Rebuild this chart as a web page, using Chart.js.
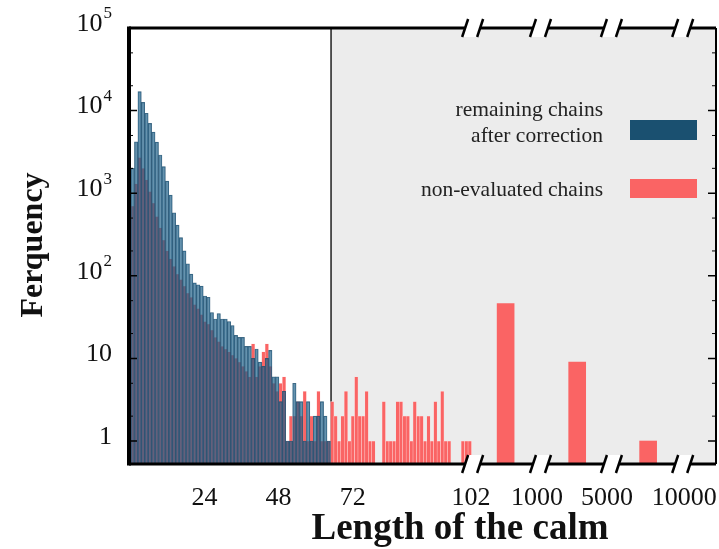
<!DOCTYPE html>
<html>
<head>
<meta charset="utf-8">
<script src="https://cdn.jsdelivr.net/npm/chart.js@4.4.0/dist/chart.umd.min.js"></script>
<style>
    html, body { margin: 0; padding: 0; background: #fff; }
    #wrap { width: 719px; height: 549px; }
</style>
</head>
<body>
<div id="wrap"><canvas id="calmChart" width="719" height="549"></canvas></div>
<script>
// Histogram bins on the linear part of the x axis (length units)
const binStart = 0.15;
const binWidth = 1.115;

// remaining chains after correction, one value per bin
const remainingCounts = [
    2000, 4200, 17000, 12600, 9300, 7000, 5500, 4150, 2900, 2100,
    1400, 950, 580, 410, 290, 200, 140, 105, 82, 78,
    75, 57, 55, 36, 30, 35, 30, 30, 28, 25,
    19, 18, 18, 14, 14, 10, 13, 9, 8, 10,
    12.5, 6, 6, 3, 4, 1, 1, 5, 3, 3,
    1, 3, 1, 2, 2, 3, 2, 1
];

// non-evaluated chains, one value per bin (null = empty bin)
const nonEvaluatedCounts = [
    700, 1300, 2700, 2000, 1450, 1050, 760, 520, 380, 270,
    200, 160, 130, 105, 90, 75, 62, 55, 45, 40,
    34, 28, 26, 22, 18, 16, 14, 13, 12, 11,
    10, 9, 8, 7, 6, 15, 6, 8, 12, 15,
    8, 5, 4, 5, 6, 1, 2, 2, 3, 2,
    4, 1, 2, 1, 4, 1, 1, 1, 3, 2,
    1, 2, 4, 1, 2, 6, 2, 2, 4, 1,
    1, null, null, 3, 1, 1, 1, 3, 3, 2,
    2, 1, 3, 2, 2, 1, 2, 1, 3, 1,
    4, 1, 1, null, null, null, 1, 1, 1
];

// very long calms, drawn after the axis breaks
const longCalmPos = [121.6, 144.8, 167.8];
const longCalmCounts = [46, 9, 1];

// threshold of the correction (length)
const thresholdLength = 65;

// x axis labels and breaks
const xTickValues = [24, 48, 72, 110.4, 131.8, 154.5, 179.5];
const xTickLabels = ['24', '48', '72', '102', '1000', '5000', '10000'];
const axisBreaks = [110.9, 132.9, 155.9, 179.0];

// y axis labels
const yTickValues = [1, 10, 100, 1000, 10000, 100000];
const yTickBase = ['1', '10', '10', '10', '10', '10'];
const yTickExp = ['', '', '2', '3', '4', '5'];
const yMinorTicks = [2, 5, 20, 50, 200, 500, 2000, 5000, 20000, 50000];

const BLUE = 'rgba(30, 94, 134, 0.68)';
const BLUE_EDGE = 'rgba(22, 66, 96, 0.75)';
const BLUE_SOLID = '#1a5070';
const RED = 'rgb(250, 100, 100)';
const RED_EDGE = 'rgba(255, 222, 222, 0.9)';
const SERIF = '"Liberation Serif", "Times New Roman", serif';

function binCenter(k) {
    return binStart + (k + 0.5) * binWidth;
}

const decorPlugin = {
    id: 'decor',
    beforeDatasetsDraw(chart) {
        const { ctx, chartArea: a, scales: { x } } = chart;
        const xt = x.getPixelForValue(thresholdLength);
        ctx.save();
        ctx.fillStyle = '#ececec';
        ctx.fillRect(xt, a.top, a.right - xt, a.bottom - a.top);
        ctx.strokeStyle = '#111';
        ctx.lineWidth = 1.4;
        ctx.beginPath();
        ctx.moveTo(xt, a.top);
        ctx.lineTo(xt, a.bottom);
        ctx.stroke();
        ctx.restore();
    },
    afterDraw(chart) {
        const { ctx, chartArea: a, scales: { x, y } } = chart;
        ctx.save();

        // frame
        ctx.strokeStyle = '#000';
        ctx.lineWidth = 4;
        ctx.beginPath(); ctx.moveTo(a.left, a.top - 1.5); ctx.lineTo(a.left, a.bottom + 1.5); ctx.stroke();
        ctx.lineWidth = 3;
        ctx.beginPath(); ctx.moveTo(a.left, a.bottom); ctx.lineTo(a.right, a.bottom); ctx.stroke();
        ctx.beginPath(); ctx.moveTo(a.left, a.top); ctx.lineTo(a.right, a.top); ctx.stroke();
        ctx.lineWidth = 2;
        ctx.beginPath(); ctx.moveTo(a.right, a.top); ctx.lineTo(a.right, a.bottom); ctx.stroke();

        // y ticks, inward on both sides
        const tick = (v, len, lw) => {
            const py = y.getPixelForValue(v);
            ctx.lineWidth = lw;
            ctx.beginPath();
            ctx.moveTo(a.left, py); ctx.lineTo(a.left + len, py);
            ctx.moveTo(a.right, py); ctx.lineTo(a.right - len, py);
            ctx.stroke();
        };
        yTickValues.forEach(v => tick(v, 8, 1.5));
        yMinorTicks.forEach(v => tick(v, 4, 1));

        // axis breaks
        axisBreaks.forEach(b => {
            const bx = x.getPixelForValue(b);
            [a.top, a.bottom].forEach(ly => {
                ctx.fillStyle = '#fff';
                ctx.beginPath();
                ctx.moveTo(bx - 10, ly + 9);
                ctx.lineTo(bx + 4, ly + 9);
                ctx.lineTo(bx + 10, ly - 9);
                ctx.lineTo(bx - 4, ly - 9);
                ctx.closePath();
                ctx.fill();
                ctx.strokeStyle = '#000';
                ctx.lineWidth = 2.5;
                [-7.5, 7.5].forEach(d => {
                    ctx.beginPath();
                    ctx.moveTo(bx + d - 3, ly + 9);
                    ctx.lineTo(bx + d + 3, ly - 9);
                    ctx.stroke();
                });
            });
        });

        // y tick labels with exponents
        ctx.fillStyle = '#111';
        ctx.textBaseline = 'middle';
        ctx.textAlign = 'right';
        yTickValues.forEach((v, i) => {
            const py = y.getPixelForValue(v) - 4;
            let right = 112;
            if (yTickExp[i]) {
                ctx.font = '17px ' + SERIF;
                ctx.fillText(yTickExp[i], right, py - 10);
                right -= ctx.measureText(yTickExp[i]).width + 1;
            }
            ctx.font = '26px ' + SERIF;
            ctx.fillText(yTickBase[i], right, py);
        });

        // axis titles
        ctx.textAlign = 'center';
        ctx.font = 'bold 37px ' + SERIF;
        ctx.fillText('Length of the calm', 460, 529);
        ctx.save();
        ctx.translate(34, 245);
        ctx.rotate(-Math.PI / 2);
        ctx.font = 'bold 32px ' + SERIF;
        ctx.fillText('Ferquency', 0, 0);
        ctx.restore();

        // legend
        ctx.font = '21.5px ' + SERIF;
        ctx.fillStyle = '#222';
        ctx.textAlign = 'right';
        ctx.textBaseline = 'alphabetic';
        ctx.fillText('remaining chains', 603, 116);
        ctx.fillText('after correction', 603, 142);
        ctx.fillText('non-evaluated chains', 603, 196);
        ctx.fillStyle = BLUE_SOLID;
        ctx.fillRect(630, 120, 67, 20);
        ctx.fillStyle = RED;
        ctx.fillRect(630, 179, 67, 19);

        ctx.restore();
    }
};

const remainingData = remainingCounts.map((v, k) => ({ x: binCenter(k), y: v }));
const nonEvaluatedData = nonEvaluatedCounts.map((v, k) => ({ x: binCenter(k), y: v }));
const longCalmData = longCalmCounts.map((v, k) => ({ x: longCalmPos[k], y: v }));

const ctx = document.getElementById('calmChart').getContext('2d');
const calmChart = new Chart(ctx, {
    type: 'bar',
    data: {
        datasets: [
            {
                label: 'remaining chains after correction',
                data: remainingData,
                backgroundColor: BLUE,
                borderColor: BLUE_EDGE,
                borderWidth: 0.5,
                barThickness: 3.44,
                grouped: false,
                order: 0
            },
            {
                label: 'non-evaluated chains',
                data: nonEvaluatedData,
                backgroundColor: RED,
                borderColor: RED_EDGE,
                borderWidth: 0.5,
                barThickness: 3.44,
                grouped: false,
                order: 1
            },
            {
                label: 'non-evaluated chains (long)',
                data: longCalmData,
                backgroundColor: RED,
                borderWidth: 0,
                barThickness: 17,
                grouped: false,
                order: 2
            }
        ]
    },
    options: {
        responsive: false,
        animation: false,
        devicePixelRatio: 1,
        layout: { padding: { top: 28, right: 3, left: 0, bottom: 0 } },
        plugins: {
            legend: { display: false },
            tooltip: { enabled: false }
        },
        scales: {
            x: {
                type: 'linear',
                min: -0.5,
                max: 189.8,
                offset: false,
                grid: { display: false, drawTicks: false },
                border: { display: false },
                afterBuildTicks: s => { s.ticks = xTickValues.map(v => ({ value: v })); },
                afterFit: s => {
                    s.height = 85;
                    s.paddingLeft = 0;
                    s.paddingRight = 0;
                },
                ticks: {
                    autoSkip: false,
                    maxRotation: 0,
                    padding: 19,
                    color: '#111',
                    font: { family: SERIF, size: 26 },
                    callback: (v, i) => xTickLabels[i]
                }
            },
            y: {
                type: 'logarithmic',
                min: 0.527,
                max: 100000,
                grid: { display: false },
                border: { display: false },
                ticks: { display: false },
                afterFit: s => {
                    s.width = 129;
                    s.paddingTop = 0;
                    s.paddingBottom = 0;
                }
            }
        }
    },
    plugins: [decorPlugin]
});
</script>
</body>
</html>
